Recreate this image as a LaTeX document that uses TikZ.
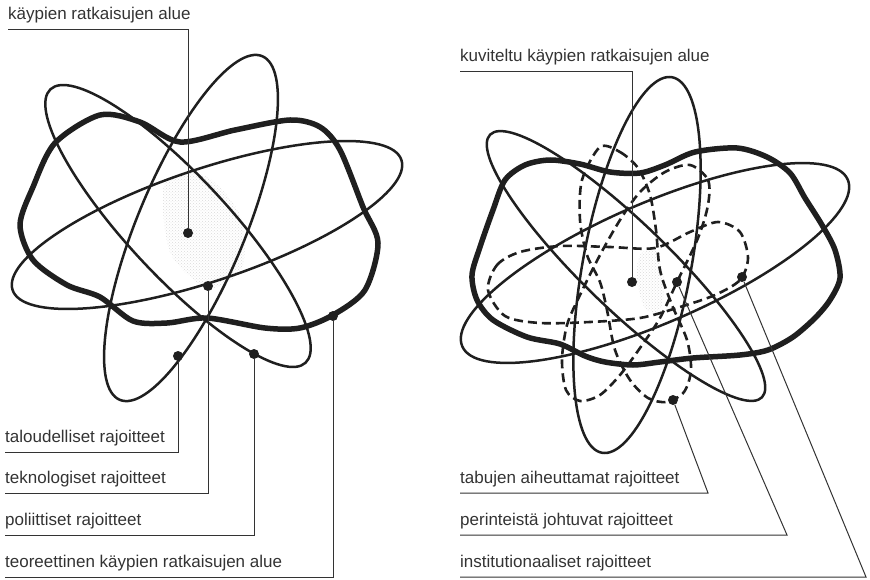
\documentclass[tikz,border=0pt]{standalone}
\usepackage{fontspec}
\setmainfont{Liberation Sans}
\usetikzlibrary{patterns}

\tikzset{
    thin loop/.style={draw=black!88, line width=2.5pt},
    thick loop/.style={draw=black!88, line width=5.5pt, line join=round},
    dashed loop/.style={draw=black!88, line width=2.6pt, dash pattern=on 9pt off 5pt},
    leader/.style={draw=black!80, line width=1pt},
    dot/.style={circle, fill=black!88, inner sep=0pt, minimum size=10pt},
    lbl/.style={anchor=base west, inner sep=0pt, text=black!80,
        font=\fontsize{17}{20}\selectfont},
    stipple/.style={pattern=crosshatch dots, pattern color=black!15},
}

\begin{document}
\begin{tikzpicture}[x=1pt, y=-1pt]
    \useasboundingbox (0,0) rectangle (870,580);

    %% left: theoretical area
    \fill[stipple] plot[smooth cycle] coordinates {
        (165,182) (205,176) (240,215) (242,268) (208,288) (170,252)};
    \draw[thin loop, rotate around={-47:(178,226)}] (178,226) ellipse [x radius=187, y radius=50];
    \draw[thin loop, rotate around={67.5:(191,228)}] (191,228) ellipse [x radius=186, y radius=54];
    \draw[thin loop, rotate around={18.5:(207,225)}] (207,225) ellipse [x radius=205, y radius=56];
    \draw[thick loop] plot[smooth cycle] coordinates {
        (55,143) (100,115) (140,122) (180,142) (235,130) (290,120) (320,127)
        (340,150) (363,207) (378,243) (365,290) (333,315) (300,328) (265,328)
        (207,318) (167,323) (133,321) (100,297) (67,285) (33,260) (20,225) (33,187)};

    \node[dot] (dFeas) at (188,233) {};
    \node[lbl] (tFeas) at (8,20) {käypien ratkaisujen alue};
    \draw[leader] ([yshift=-10pt]tFeas.base west) -| (dFeas);

    \foreach \name/\px/\py/\base/\txt in {
        Econ/178/356/442/taloudelliset rajoitteet,
        Tech/208/286/483/teknologiset rajoitteet,
        Pol/254/354/525/poliittiset rajoitteet,
        Theo/333/316/567/teoreettinen käypien ratkaisujen alue} {
        \node[dot] (d\name) at (\px,\py) {};
        \node[lbl] (t\name) at (5,\base) {\txt};
        \draw[leader] ([yshift=-10pt]t\name.base west) -| (d\name);
    }

    %% right: imagined area
    \fill[stipple] plot[smooth cycle] coordinates {
        (640,255) (655,250) (664,280) (660,310) (645,308) (637,280)};
    \draw[thin loop, rotate around={-44:(626,266)}] (626,266) ellipse [x radius=189, y radius=43];
    \draw[thin loop, rotate around={79.4:(637,265)}] (637,265) ellipse [x radius=191, y radius=54];
    \draw[thin loop, rotate around={23.4:(655,263)}] (655,263) ellipse [x radius=210, y radius=60];
    \draw[thick loop] plot[smooth cycle] coordinates {
        (480,247) (493,210) (505,180) (525,165) (550,160) (580,164) (610,172)
        (640,173) (665,165) (695,152) (737,148) (767,157) (790,173) (805,198)
        (822,225) (835,250) (840,278) (830,300) (815,318) (793,337) (768,350)
        (740,355) (693,358) (660,362) (633,365) (605,362) (585,356) (560,344)
        (527,337) (493,320) (477,300) (472,275)};
    % dashed constraints
    \draw[dashed loop] plot[smooth cycle] coordinates {
        (600,147) (620,152) (638,168) (650,195) (656,230) (660,270) (672,305)
        (687,340) (691,370) (684,392) (667,402) (648,398) (630,380) (615,350)
        (607,310) (600,282) (587,255) (580,220) (582,180)};
    \draw[dashed loop] plot[smooth cycle] coordinates {
        (690,165) (708,180) (708,205) (698,238) (677,282) (660,318) (640,348)
        (620,375) (600,395) (580,401) (566,390) (562,360) (567,325) (580,295)
        (600,255) (620,220) (640,192) (665,172)};
    \draw[dashed loop] plot[smooth cycle] coordinates {
        (488,290) (497,265) (520,252) (560,246) (610,247) (655,248) (690,232)
        (718,222) (740,232) (748,258) (740,280) (715,295) (680,307) (640,318)
        (590,322) (540,323) (505,316)};

    \node[dot] (dImag) at (632,282) {};
    \node[lbl] (tImag) at (460,62) {kuviteltu käypien ratkaisujen alue};
    \draw[leader] ([yshift=-10pt]tImag.base west) -| (dImag);

    \foreach \name/\px/\py/\base/\ex/\txt in {
        Tabu/673/400/483/708/tabujen aiheuttamat rajoitteet,
        Trad/677/282/525/787/perinteistä johtuvat rajoitteet,
        Inst/742/277/567/866/institutionaaliset rajoitteet} {
        \node[dot] (d\name) at (\px,\py) {};
        \node[lbl] (t\name) at (460,\base) {\txt};
        \coordinate (k\name) at (\ex,\base+10);
        \draw[leader] ([yshift=-10pt]t\name.base west) -- (k\name) -- (d\name);
    }
\end{tikzpicture}
\end{document}
